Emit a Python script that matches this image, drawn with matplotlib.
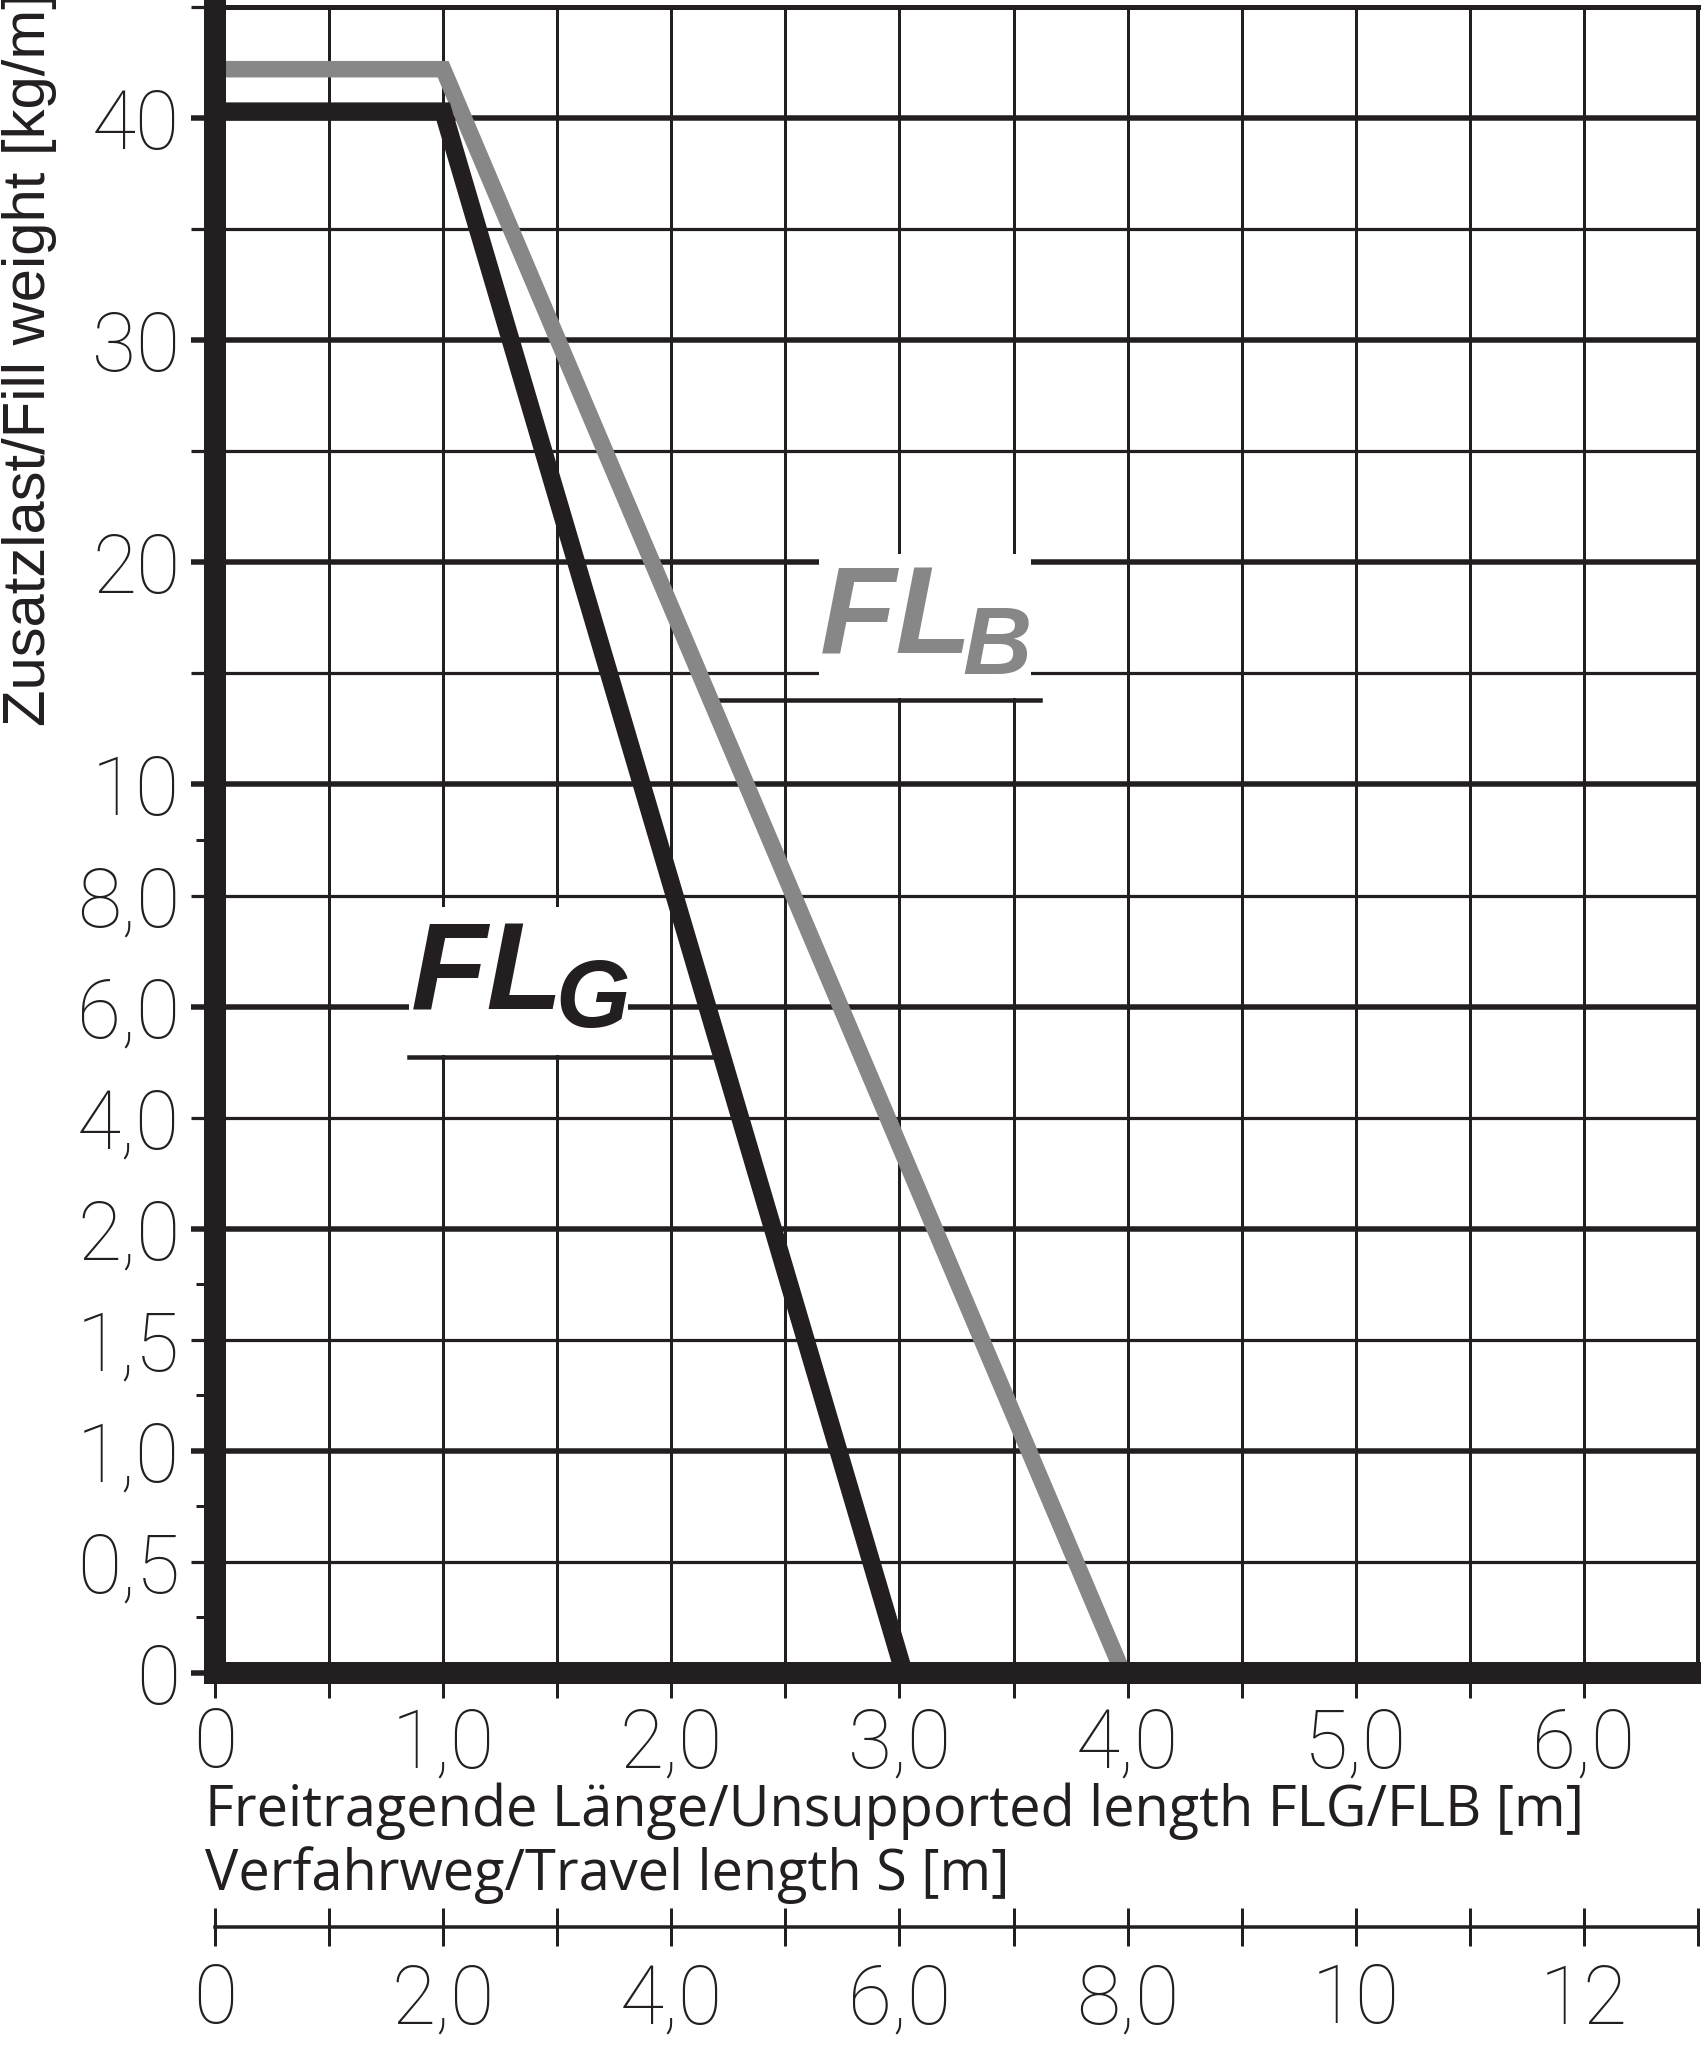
import numpy as np
import matplotlib
matplotlib.use("Agg")
import matplotlib.pyplot as plt
from matplotlib.patches import Rectangle
from matplotlib.lines import Line2D

# ---------------- data ----------------
fl_g_x = [0.0, 1.0, 3.02]
fl_g_y = [40.3, 40.3, 0.0]
fl_b_x = [0.0, 1.0, 3.98]
fl_b_y = [42.2, 42.2, 0.0]

# piecewise y scale (value -> equal-step position)
scale_values = [0.0, 2.0, 10.0, 45.0]
scale_positions = [0.0, 4.0, 8.0, 15.0]

ytick_values = [0, 0.5, 1.0, 1.5, 2.0, 4.0, 6.0, 8.0, 10, 15, 20, 25, 30, 35, 40, 45]
ytick_labels = ['0', '0,5', '1,0', '1,5', '2,0', '4,0', '6,0', '8,0', '10', '', '20', '', '30', '', '40', '']
ytick_minor = [0.25, 0.75, 1.25, 1.75, 9.0]

xtick_values = [0, 1, 2, 3, 4, 5, 6]
xtick_labels = ['0', '1,0', '2,0', '3,0', '4,0', '5,0', '6,0']
xtick_minor = [0.5, 1.5, 2.5, 3.5, 4.5, 5.5]

s_tick_values = [0, 2, 4, 6, 8, 10, 12]
s_tick_labels = ['0', '2,0', '4,0', '6,0', '8,0', '10', '12']
s_tick_minor = [1, 3, 5, 7, 9, 11, 13]

xlabel_1 = "Freitragende Länge/Unsupported length FLG/FLB [m]"
xlabel_2 = "Verfahrweg/Travel length S [m]"
ylabel = "Zusatzlast/Fill weight [kg/m]"

INK = "#231f20"
GRAY = "#878787"

W, H = 1701, 2048
DPI = 100
PT = 72.0 / DPI  # points per pixel


def fx(px):
    return px / W


def fy(py):
    return 1.0 - py / H


fig = plt.figure(figsize=(W / DPI, H / DPI), dpi=DPI)
fig.patch.set_facecolor("white")

ax = fig.add_axes([fx(215), fy(1673), (1698 - 215) / W, (1673 - 7) / H])


def fwd(v):
    return np.interp(v, scale_values, scale_positions)


def inv(p):
    return np.interp(p, scale_positions, scale_values)


ax.set_yscale("function", functions=(fwd, inv))
ax.set_xlim(0, 6.5)
ax.set_ylim(0, 45)
ax.set_axisbelow(True)

tick_font = dict(family=["Roboto", "DejaVu Sans"], weight="light", size=58)

# y ticks
ax.set_yticks(ytick_values, labels=ytick_labels, **tick_font)
ax.set_yticks(ytick_minor, minor=True)
ax.yaxis.set_minor_formatter(matplotlib.ticker.NullFormatter())
ax.tick_params(axis="y", which="major", direction="out", length=24 * PT,
               width=5 * PT, color=INK, pad=11 * PT, labelcolor=INK)
ax.tick_params(axis="y", which="minor", direction="out", length=19 * PT,
               width=3 * PT, color=INK)
for i, tick in enumerate(ax.yaxis.get_major_ticks()):
    tick.tick1line.set_markeredgewidth((5.5 if i % 2 == 0 else 3.2) * PT)

# x ticks
ax.set_xticks(xtick_values, labels=xtick_labels, **tick_font)
ax.set_xticks(xtick_minor, minor=True)
ax.tick_params(axis="x", which="both", direction="out", length=25 * PT,
               width=3 * PT, color=INK, pad=8 * PT, labelcolor=INK)

# grid
ax.grid(True, axis="x", which="both", color=INK, lw=3 * PT)
for i, v in enumerate(ytick_values):
    if 0 < i < len(ytick_values) - 1:
        ax.axhline(v, color=INK, lw=(5.5 if i % 2 == 0 else 3.2) * PT, zorder=1)

# spines
for side, lw in (("left", 22), ("bottom", 22), ("top", 5), ("right", 4)):
    sp = ax.spines[side]
    sp.set_linewidth(lw * PT)
    sp.set_color(INK)
    sp.set_capstyle("projecting")
    sp.set_zorder(2.5)

# curves
ax.plot(fl_b_x, fl_b_y, color=GRAY, lw=16.5 * PT, solid_joinstyle="miter",
        solid_capstyle="butt", zorder=2.2)
ax.plot(fl_g_x, fl_g_y, color=INK, lw=18 * PT, solid_joinstyle="miter",
        solid_capstyle="butt", zorder=2.3)

# label boxes (white knock-outs) and underlines
for (x0, y0, x1, y1) in ((819, 554, 1031, 698), (409, 907, 628, 1055)):
    ax.add_artist(Rectangle((fx(x0), fy(y1)), fx(x1) - fx(x0), fy(y0) - fy(y1),
                            transform=fig.transFigure, facecolor="white",
                            edgecolor="none", zorder=1.5, clip_on=False))
for (x0, x1, yy) in ((712, 1040, 700), (409, 717, 1057)):
    ax.add_artist(Line2D([fx(x0), fx(x1)], [fy(yy), fy(yy)], transform=fig.transFigure,
                         color=INK, lw=4.5 * PT, zorder=1.8, clip_on=False))

lab_font = dict(family=["Liberation Sans", "DejaVu Sans"], weight="bold", style="italic")
fig.text(fx(820), fy(654), "FL", color=GRAY, fontsize=90, ha="left", va="baseline", **lab_font)
fig.text(fx(962), fy(674), "B", color=GRAY, fontsize=69, ha="left", va="baseline", **lab_font)
fig.text(fx(411), fy(1009), "FL", color=INK, fontsize=90, ha="left", va="baseline", **lab_font)
fig.text(fx(555), fy(1027), "G", color=INK, fontsize=69, ha="left", va="baseline", **lab_font)

# secondary travel-length axis
sec = ax.secondary_xaxis(-(1927 - 1673) / (1673 - 7),
                         functions=(lambda x: np.asarray(x) * 2.0, lambda s: np.asarray(s) / 2.0))
sec.set_xticks(s_tick_values, labels=s_tick_labels, **tick_font)
sec.set_xticks(s_tick_minor, minor=True)
sec.tick_params(axis="x", which="both", direction="inout", length=38 * PT,
                width=3 * PT, color=INK, pad=16 * PT, labelcolor=INK)
sec.spines["bottom"].set_linewidth(3.5 * PT)
sec.spines["bottom"].set_color(INK)

# axis titles
renderer = fig.canvas.get_renderer()
xl_font = dict(family=["Open Sans", "DejaVu Sans"], color=INK)
t1 = fig.text(fx(205), fy(1826), xlabel_1, ha="left", va="baseline", fontsize=40, **xl_font)
t2 = fig.text(fx(205), fy(1890), xlabel_2, ha="left", va="baseline", fontsize=40, **xl_font)
w1 = t1.get_window_extent(renderer).width
fs = 40 * 1376.0 / w1
t1.set_fontsize(fs)
t2.set_fontsize(fs)

ty = fig.text(fx(45), fy(726), ylabel, rotation=90, rotation_mode="anchor",
              ha="left", va="baseline", fontsize=44, color=INK,
              family=["Liberation Sans", "DejaVu Sans"])
hy = ty.get_window_extent(renderer).height
ty.set_fontsize(44 * 735.0 / hy)

fig.savefig("out.png", dpi=DPI, facecolor="white")
